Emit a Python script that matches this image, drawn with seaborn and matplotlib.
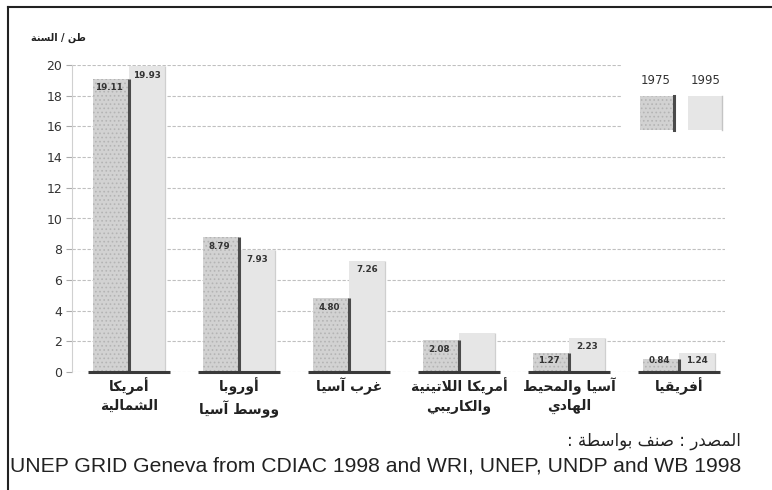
import matplotlib
matplotlib.use("Agg")
import matplotlib.pyplot as plt
import numpy as np
import pandas as pd
import seaborn as sns
from matplotlib.patches import Rectangle
from matplotlib.lines import Line2D

# ---------------- data ----------------
regions = ["أمريكا\nالشمالية", "أوروبا\nووسط آسيا", "غرب آسيا",
           "أمريكا اللاتينية\nوالكاريبي", "آسيا والمحيط\nالهادي", "أفريقيا"]
years = ["1975", "1995"]
values_1975 = [19.11, 8.79, 4.80, 2.08, 1.27, 0.84]
values_1995 = [19.93, 7.93, 7.26, 2.55, 2.23, 1.24]
labels_1975 = ["19.11", "8.79", "4.80", "2.08", "1.27", "0.84"]
labels_1995 = ["19.93", "7.93", "7.26", "", "2.23", "1.24"]
y_ticks = [0, 2, 4, 6, 8, 10, 12, 14, 16, 18, 20]
y_unit = "طن / السنة"
source_ar = "المصدر : صنف بواسطة :"
source_en = "UNEP GRID Geneva from CDIAC 1998 and WRI, UNEP, UNDP and WB 1998"

# ------------- Arabic shaping (matplotlib has no complex text layout) -------------
_F = {
    'ء': ('\uFE80',), 'آ': ('\uFE81', '\uFE82'), 'أ': ('\uFE83', '\uFE84'),
    'ؤ': ('\uFE85', '\uFE86'), 'إ': ('\uFE87', '\uFE88'),
    'ئ': ('\uFE89', '\uFE8A', '\uFE8B', '\uFE8C'), 'ا': ('\uFE8D', '\uFE8E'),
    'ب': ('\uFE8F', '\uFE90', '\uFE91', '\uFE92'), 'ة': ('\uFE93', '\uFE94'),
    'ت': ('\uFE95', '\uFE96', '\uFE97', '\uFE98'), 'ث': ('\uFE99', '\uFE9A', '\uFE9B', '\uFE9C'),
    'ج': ('\uFE9D', '\uFE9E', '\uFE9F', '\uFEA0'), 'ح': ('\uFEA1', '\uFEA2', '\uFEA3', '\uFEA4'),
    'خ': ('\uFEA5', '\uFEA6', '\uFEA7', '\uFEA8'), 'د': ('\uFEA9', '\uFEAA'),
    'ذ': ('\uFEAB', '\uFEAC'), 'ر': ('\uFEAD', '\uFEAE'), 'ز': ('\uFEAF', '\uFEB0'),
    'س': ('\uFEB1', '\uFEB2', '\uFEB3', '\uFEB4'), 'ش': ('\uFEB5', '\uFEB6', '\uFEB7', '\uFEB8'),
    'ص': ('\uFEB9', '\uFEBA', '\uFEBB', '\uFEBC'), 'ض': ('\uFEBD', '\uFEBE', '\uFEBF', '\uFEC0'),
    'ط': ('\uFEC1', '\uFEC2', '\uFEC3', '\uFEC4'), 'ظ': ('\uFEC5', '\uFEC6', '\uFEC7', '\uFEC8'),
    'ع': ('\uFEC9', '\uFECA', '\uFECB', '\uFECC'), 'غ': ('\uFECD', '\uFECE', '\uFECF', '\uFED0'),
    'ف': ('\uFED1', '\uFED2', '\uFED3', '\uFED4'), 'ق': ('\uFED5', '\uFED6', '\uFED7', '\uFED8'),
    'ك': ('\uFED9', '\uFEDA', '\uFEDB', '\uFEDC'), 'ل': ('\uFEDD', '\uFEDE', '\uFEDF', '\uFEE0'),
    'م': ('\uFEE1', '\uFEE2', '\uFEE3', '\uFEE4'), 'ن': ('\uFEE5', '\uFEE6', '\uFEE7', '\uFEE8'),
    'ه': ('\uFEE9', '\uFEEA', '\uFEEB', '\uFEEC'), 'و': ('\uFEED', '\uFEEE'),
    'ى': ('\uFEEF', '\uFEF0'), 'ي': ('\uFEF1', '\uFEF2', '\uFEF3', '\uFEF4'),
}
_LA = {'ا': ('\uFEFB', '\uFEFC'), 'أ': ('\uFEF7', '\uFEF8'),
       'آ': ('\uFEF5', '\uFEF6'), 'إ': ('\uFEF9', '\uFEFA')}


def _dual(c):
    return c in _F and len(_F[c]) == 4


def shape_line(s):
    out = []
    i = 0
    n = len(s)
    while i < n:
        c = s[i]
        prev = s[i - 1] if i > 0 else ''
        jp = _dual(prev)
        if c == 'ل' and i + 1 < n and s[i + 1] in _LA:
            out.append(_LA[s[i + 1]][1 if jp else 0])
            i += 2
            continue
        if c in _F:
            nxt = s[i + 1] if i + 1 < n else ''
            jn = _dual(c) and nxt in _F
            if len(_F[c]) == 1:
                out.append(_F[c][0])
            elif jp and jn:
                out.append(_F[c][3])
            elif jp:
                out.append(_F[c][1])
            elif jn:
                out.append(_F[c][2])
            else:
                out.append(_F[c][0])
        else:
            out.append(c)
        i += 1
    return ''.join(out)[::-1]


def ar(s):
    return "\n".join(shape_line(line) for line in s.split("\n"))


# ---------------- figure ----------------
W, H = 772, 490
fig = plt.figure(figsize=(W / 100, H / 100), dpi=100)
fig.patch.set_facecolor("white")
matplotlib.rcParams['hatch.linewidth'] = 0.7


def fx(px):
    return px / W


def fy(py):
    return 1 - py / H


ax = fig.add_axes([fx(72), fy(372), fx(725) - fx(72), fy(65) - fy(372)])

df = pd.DataFrame({
    "region": regions * 2,
    "year": [years[0]] * len(regions) + [years[1]] * len(regions),
    "value": values_1975 + values_1995,
})

c1975 = "#d2d2d2"
c1995 = "#e6e6e6"
hatch_c = "#b4b4b4"
dark = "#4a4a4a"

sns.barplot(data=df, x="region", y="value", hue="year", order=regions,
            hue_order=years, palette=[c1975, c1995], width=0.66, gap=0,
            saturation=1, edgecolor="none", linewidth=0, legend=False, ax=ax,
            zorder=2)

bars75 = ax.containers[0]
bars95 = ax.containers[1]
for b in bars75:
    b.set_hatch("....")
    b.set_edgecolor(hatch_c)
    b.set_linewidth(0)

for b, lab in zip(bars75, labels_1975):
    x_r = b.get_x() + b.get_width()
    h = b.get_height()
    ax.vlines(x_r, 0, h, color=dark, lw=2.2, zorder=4)
    ax.text(b.get_x() + b.get_width() * 0.45, max(h - 0.6, 0.72), lab,
            ha="center", va="center", fontsize=6.3, color="#333333",
            fontweight="bold", zorder=5)
for b, lab in zip(bars95, labels_1995):
    x_r = b.get_x() + b.get_width()
    h = b.get_height()
    ax.vlines(x_r, 0, h, color="#cfcfcf", lw=0.9, zorder=3)
    if lab:
        ax.text(b.get_x() + b.get_width() * 0.5, max(h - 0.6, 0.72), lab,
                ha="center", va="center", fontsize=6.3, color="#333333",
                fontweight="bold", zorder=5)

# dark baseline under each group
for i in range(len(regions)):
    ax.hlines(0, i - 0.375, i + 0.375, color="#3a3a3a", lw=2.2, zorder=6,
              clip_on=False)

ax.set_xlim(-0.52, 5.42)
ax.set_ylim(0, 20)
ax.set_yticks(y_ticks)
ax.set_yticklabels([str(t) for t in y_ticks], fontsize=9, color="#333333")
ax.yaxis.grid(True, color="#c0c0c0", linestyle=(0, (3, 1.5)), lw=0.8, zorder=0)
ax.xaxis.grid(False)
ax.set_axisbelow(True)
for s in ["top", "right", "bottom"]:
    ax.spines[s].set_visible(False)
ax.spines["left"].set_color("#d0d0d0")
ax.spines["left"].set_linewidth(0.8)
ax.tick_params(axis="y", length=4, color="#aaaaaa", pad=3)
ax.tick_params(axis="x", length=0, pad=4)
ax.set_xticks(range(len(regions)))
ax.set_xticklabels([ar(r) for r in regions], fontsize=10, fontweight="bold",
                   color="#222222", family=["DejaVu Sans"], linespacing=1.35)
ax.set_xlabel("")
ax.set_ylabel("")

# unit label
fig.text(fx(58), fy(38), ar(y_unit), ha="center", va="center", fontsize=7,
         fontweight="bold", color="#222222", family=["DejaVu Sans"])

# legend (manual, labels above swatches)
fig.add_artist(Rectangle((fx(622), fy(142)), fx(738) - fx(622), fy(55) - fy(142),
                         transform=fig.transFigure, facecolor="white",
                         edgecolor="none", zorder=10))
fig.add_artist(Rectangle((fx(640), fy(130)), fx(673) - fx(640), fy(96) - fy(130),
                         transform=fig.transFigure, facecolor=c1975, hatch="....",
                         edgecolor=hatch_c, linewidth=0, zorder=11))
fig.add_artist(Line2D([fx(674), fx(674)], [fy(130), fy(96)], color=dark, lw=2.2,
                      transform=fig.transFigure, zorder=12))
fig.add_artist(Rectangle((fx(688), fy(130)), fx(722) - fx(688), fy(96) - fy(130),
                         transform=fig.transFigure, facecolor=c1995,
                         edgecolor="none", zorder=11))
fig.add_artist(Line2D([fx(722), fx(722)], [fy(130), fy(96)], color="#c4c4c4", lw=1,
                      transform=fig.transFigure, zorder=12))
fig.text(fx(656), fy(80), years[0], ha="center", va="center", fontsize=8.5,
         color="#333333", zorder=13)
fig.text(fx(706), fy(80), years[1], ha="center", va="center", fontsize=8.5,
         color="#333333", zorder=13)

# source lines
fig.text(fx(741), fy(441), ar(source_ar), ha="right", va="center", fontsize=12,
         color="#222222", family=["DejaVu Sans"])
fig.text(fx(10), fy(466), source_en, ha="left", va="center", fontsize=15.2,
         color="#222222", family=["Liberation Sans"])

# frame lines (top and left)
fig.add_artist(Line2D([fx(8), 1], [fy(7), fy(7)], color="#222222", lw=1.5,
                      transform=fig.transFigure))
fig.add_artist(Line2D([fx(8), fx(8)], [0, fy(7)], color="#222222", lw=1.5,
                      transform=fig.transFigure))

fig.savefig("out.png", dpi=100, facecolor="white")
